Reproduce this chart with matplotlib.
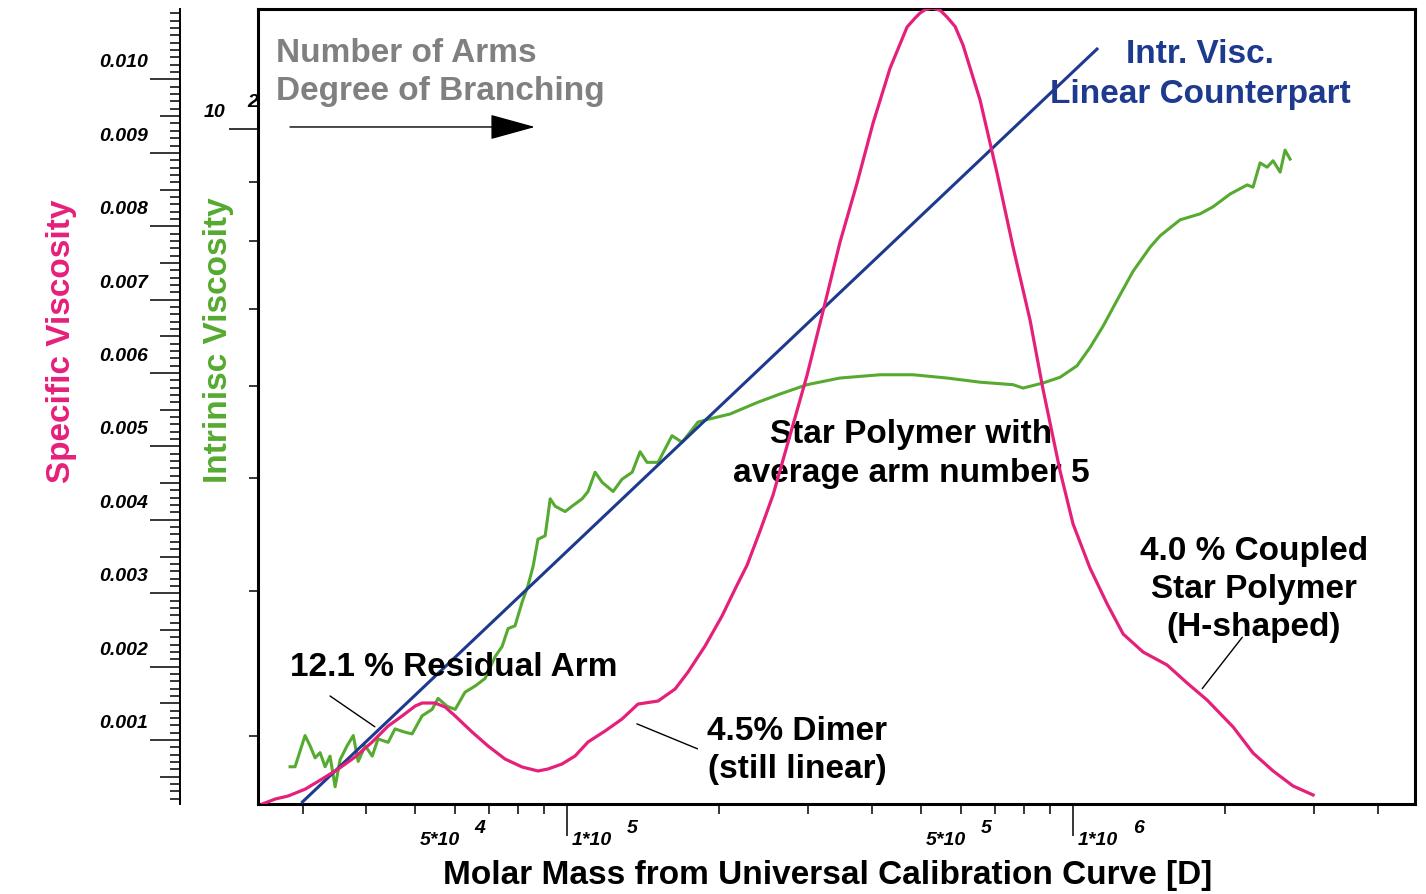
import numpy as np
import matplotlib
matplotlib.use("Agg")
import matplotlib.pyplot as plt
from matplotlib.ticker import FixedLocator, NullFormatter

plt.rcParams['font.family'] = ['Liberation Sans', 'DejaVu Sans']

# ---- values --------------------------------------------------------------
# specific viscosity trace (pink), molar mass in D, viscosity in units of 1e-3
spec_M = [2.50e4, 2.65e4, 2.81e4, 3.04e4, 3.28e4, 3.53e4, 3.81e4, 4.12e4, 4.43e4, 4.72e4,
          5.01e4, 5.17e4, 5.48e4, 5.74e4, 6.01e4, 6.49e4, 6.98e4, 7.54e4, 8.15e4, 8.76e4,
          9.17e4, 9.77e4, 1.037e5, 1.10e5, 1.189e5, 1.284e5, 1.381e5, 1.513e5, 1.635e5, 1.734e5,
          1.874e5, 2.024e5, 2.148e5, 2.269e5, 2.406e5, 2.553e5, 2.759e5, 2.981e5, 3.206e5, 3.463e5,
          3.742e5, 4.025e5, 4.349e5, 4.698e5, 4.872e5, 4.984e5, 5.100e5, 5.263e5, 5.462e5, 5.636e5,
          5.847e5, 6.06e5, 6.55e5, 7.075e5, 7.61e5, 8.222e5, 8.72e5, 9.426e5, 1.0e6, 1.08e6,
          1.168e6, 1.256e6, 1.375e6, 1.534e6, 1.68e6, 1.84e6, 2.072e6, 2.268e6, 2.485e6, 2.722e6,
          2.981e6]
spec_visc_e3 = [0.128, 0.196, 0.237, 0.332, 0.469, 0.605, 0.768, 0.973, 1.191, 1.327,
                1.463, 1.504, 1.504, 1.450, 1.327, 1.109, 0.918, 0.741, 0.632, 0.578,
                0.605, 0.673, 0.782, 0.973, 1.123, 1.286, 1.490, 1.531, 1.695, 1.926,
                2.281, 2.689, 3.057, 3.384, 3.847, 4.338, 5.155, 5.973, 6.845, 7.785,
                8.589, 9.406, 10.155, 10.714, 10.836, 10.905, 10.950, 10.973, 10.943, 10.850,
                10.721, 10.469, 9.719, 8.725, 7.717, 6.722, 5.782, 4.665, 3.943, 3.343,
                2.853, 2.444, 2.199, 2.022, 1.777, 1.545, 1.177, 0.823, 0.578, 0.373,
                0.251]

# intrinsic viscosity trace (green)
intr_M = [2.835e4, 2.90e4, 3.035e4, 3.105e4, 3.177e4, 3.25e4, 3.325e4, 3.40e4, 3.48e4, 3.56e4,
          3.675e4, 3.78e4, 3.865e4, 3.99e4, 4.12e4, 4.23e4, 4.43e4, 4.57e4, 4.785e4, 4.94e4,
          5.17e4, 5.41e4, 5.56e4, 5.79e4, 6.01e4, 6.285e4, 6.58e4, 6.885e4, 7.21e4, 7.44e4,
          7.645e4, 7.89e4, 8.15e4, 8.37e4, 8.57e4, 8.76e4, 9.05e4, 9.26e4, 9.47e4, 9.91e4,
          1.023e5, 1.071e5, 1.10e5, 1.136e5, 1.173e5, 1.233e5, 1.284e5, 1.345e5, 1.394e5, 1.439e5,
          1.513e5, 1.612e5, 1.688e5, 1.815e5, 1.90e5, 2.10e5, 2.374e5, 2.636e5, 2.98e5, 3.46e5,
          4.156e5, 4.83e5, 5.64e5, 6.55e5, 7.61e5, 7.965e5, 8.72e5, 9.43e5, 1.018e6, 1.08e6,
          1.146e6, 1.222e6, 1.314e6, 1.42e6, 1.486e6, 1.627e6, 1.782e6, 1.891e6, 2.044e6, 2.208e6,
          2.268e6, 2.342e6, 2.418e6, 2.485e6, 2.566e6, 2.624e6, 2.685e6]
intr_visc = [28.2, 28.2, 30.0, 29.4, 28.7, 29.0, 28.2, 28.8, 27.1, 28.6,
             29.4, 30.0, 28.5, 29.4, 28.8, 29.8, 29.6, 30.4, 30.2, 30.1,
             31.2, 31.6, 32.3, 31.8, 31.6, 32.7, 33.1, 33.6, 35.1, 35.8,
             37.1, 37.3, 39.1, 40.4, 42.0, 44.3, 44.6, 48.0, 47.3, 46.8,
             47.3, 48.0, 48.7, 50.6, 49.6, 48.7, 49.9, 50.6, 52.7, 51.6,
             51.6, 54.4, 53.7, 55.9, 56.2, 56.8, 58.1, 59.1, 60.2, 61.0,
             61.4, 61.4, 61.0, 60.5, 60.2, 59.8, 60.4, 61.1, 62.5, 64.8,
             67.6, 71.2, 75.4, 79.1, 80.9, 83.5, 84.5, 85.7, 87.9, 89.5,
             89.1, 93.5, 92.7, 93.9, 91.8, 95.9, 94.2]

# linear counterpart (straight line in log-log)
lin_M = [3.0e4, 1.115e6]
lin_visc = [26.3, 117.2]

# tick labels
xlab_pos = [5e4, 1e5, 5e5, 1e6]
xlab_mant = ['5*10', '1*10', '5*10', '1*10']
xlab_exp = ['4', '5', '5', '6']
spec_labels = [0.001, 0.002, 0.003, 0.004, 0.005, 0.006, 0.007, 0.008, 0.009, 0.010]

PINK = '#e5207a'
GREEN = '#56aa30'
NAVY = '#1d3a8e'
GRAY = '#808080'


def text_block(ax, lines, x, y, color='black', ha='left', step=38):
    """stack of bold lines, baseline of the first one at (x, y) in axes fraction"""
    for i, line in enumerate(lines):
        ax.annotate(line, xy=(x, y), xycoords='axes fraction', xytext=(0, -i * step),
                    textcoords='offset pixels', ha=ha, va='baseline',
                    fontsize=24, fontweight='bold', color=color)


def leader(ax, start, end):
    ax.annotate('', xy=end, xytext=start, xycoords='data', textcoords='data',
                arrowprops=dict(arrowstyle='-', color='black', lw=1.0, shrinkA=0, shrinkB=0))


fig = plt.figure(figsize=(14.26, 8.95), dpi=100)
ax = fig.add_axes([258 / 1426, 90 / 895, 1157 / 1426, 795 / 895])

# intrinsic viscosity (log) on the main axes
ax.plot(intr_M, intr_visc, color=GREEN, lw=2.2, zorder=2)
ax.plot(lin_M, lin_visc, color=NAVY, lw=2.2, zorder=3)
ax.set_xscale('log')
ax.set_yscale('log')
ax.set_xlim(2.45e4, 4.74e6)
ax.set_ylim(26.19, 126.9)

ax.xaxis.set_major_locator(FixedLocator([1e5, 1e6]))
ax.xaxis.set_minor_locator(FixedLocator([k * 10.0**e for e in (4, 5, 6) for k in range(2, 10)]))
ax.xaxis.set_major_formatter(NullFormatter())
ax.xaxis.set_minor_formatter(NullFormatter())
ax.yaxis.set_major_locator(FixedLocator([100]))
ax.yaxis.set_minor_locator(FixedLocator([k * 10.0 for k in range(2, 10)]))
ax.yaxis.set_major_formatter(NullFormatter())
ax.yaxis.set_minor_formatter(NullFormatter())
ax.tick_params(axis='x', which='major', direction='out', length=23, width=1.1)
ax.tick_params(axis='x', which='minor', direction='out', length=7.2, width=1.1)
ax.tick_params(axis='y', which='major', direction='out', length=21, width=1.1)
ax.tick_params(axis='y', which='minor', direction='out', length=6.5, width=1.1)
for sp in ax.spines.values():
    sp.set_linewidth(2.2)

# specific viscosity (linear) on a twin whose axis sits further left (78 px)
axs = ax.twinx()
axs.plot(spec_M, np.array(spec_visc_e3) * 1e-3, color=PINK, lw=2.3, zorder=4)
axs.set_ylim(0.000128, 0.01096)
axs.yaxis.tick_left()
axs.spines['left'].set_position(('outward', 78 * 0.72))
axs.spines['left'].set_visible(True)
axs.spines['left'].set_linewidth(1.4)
for side in ('right', 'top', 'bottom'):
    axs.spines[side].set_visible(False)
axs.yaxis.set_major_locator(FixedLocator(np.arange(1, 21) * 0.0005))
axs.yaxis.set_minor_locator(FixedLocator(np.arange(2, 110) * 0.0001))
axs.yaxis.set_major_formatter(NullFormatter())
axs.yaxis.set_minor_formatter(NullFormatter())
axs.tick_params(axis='y', which='major', direction='out', length=14.4, width=1.1)
axs.tick_params(axis='y', which='minor', direction='out', length=7.2, width=1.1)

# old-style tick labels, sitting above their ticks
tick_font = dict(fontsize=14, fontweight='bold', fontstyle='italic', va='baseline')
for v in spec_labels:
    axs.annotate(f'{v:.3f}', xy=(0, v), xycoords=axs.get_yaxis_transform(),
                 xytext=(-110, 13), textcoords='offset pixels', ha='right', **tick_font)
ax.annotate('10', xy=(0, 100), xycoords=ax.get_yaxis_transform(),
            xytext=(-33, 13), textcoords='offset pixels', ha='right', **tick_font)
ax.annotate('2', xy=(0, 100), xycoords=ax.get_yaxis_transform(),
            xytext=(-11, 23), textcoords='offset pixels', ha='left', **tick_font)
for m, mant, ex in zip(xlab_pos, xlab_mant, xlab_exp):
    ax.annotate(mant, xy=(m, 0), xycoords=ax.get_xaxis_transform(),
                xytext=(5, -40), textcoords='offset pixels', ha='left', **tick_font)
    ax.annotate(ex, xy=(m, 0), xycoords=ax.get_xaxis_transform(),
                xytext=(60, -28), textcoords='offset pixels', ha='left', **tick_font)

# axis titles
fig.text(828 / 1426, 1 - 884 / 895, 'Molar Mass from Universal Calibration Curve [D]',
         ha='center', va='baseline', fontsize=24, fontweight='bold')
fig.text(62 / 1426, 1 - 341 / 895, 'Specific Viscosity', rotation=90, ha='center', va='center',
         fontsize=24, fontweight='bold', color=PINK)
fig.text(218 / 1426, 1 - 340 / 895, 'Intrinisc Viscosity', rotation=90, ha='center', va='center',
         fontsize=24, fontweight='bold', color=GREEN)

# annotations
text_block(axs, ['Number of Arms', 'Degree of Branching'], 0.0156, 0.9346, color=GRAY)
axs.annotate('', xy=(0.2394, 0.8516), xytext=(0.0277, 0.8516), xycoords='axes fraction',
             arrowprops=dict(arrowstyle='-|>,head_length=2.9,head_width=0.8', mutation_scale=10,
                             color='black', lw=1.0, shrinkA=0, shrinkB=0))
text_block(axs, ['Intr. Visc.', 'Linear Counterpart'], 0.8142, 0.9333, color=NAVY, ha='center', step=40)
text_block(axs, ['Star Polymer with', 'average arm number 5'], 0.5644, 0.4553, ha='center', step=39)
text_block(axs, ['4.0 % Coupled', 'Star Polymer', '(H-shaped)'], 0.8608, 0.3082, ha='center')
text_block(axs, ['12.1 % Residual Arm'], 0.0277, 0.1623)
text_block(axs, ['4.5% Dimer', '(still linear)'], 0.4659, 0.0818, ha='center')

leader(axs, (3.40e4, 0.00160), (4.17e4, 0.00118))
leader(axs, (1.374e5, 0.00122), (1.81e5, 0.00088))
leader(axs, (2.16e6, 0.00240), (1.80e6, 0.00170))

# whole-thousandth ticks on the specific axis are the long ones
fig.canvas.draw()
for t in axs.yaxis.get_major_ticks():
    q = t.get_loc() / 0.001
    if abs(q - round(q)) < 1e-6:
        t.tick1line.set_markersize(21.6)

fig.savefig('out.png', dpi=100)
